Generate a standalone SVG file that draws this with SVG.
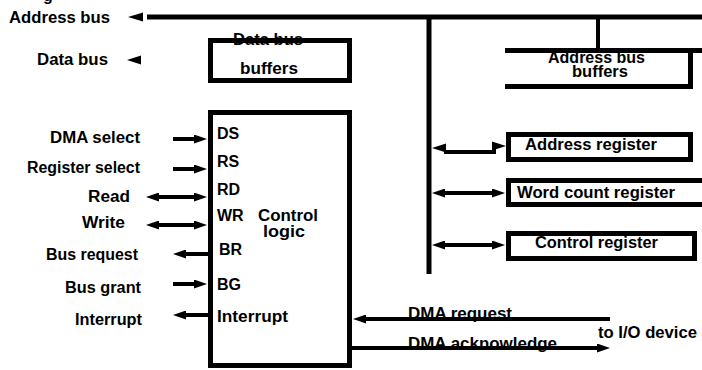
<svg xmlns="http://www.w3.org/2000/svg" width="702" height="370" viewBox="0 0 702 370">
<style>
text{font-family:"Liberation Sans",Arial,sans-serif;font-weight:bold;font-size:16px;fill:#000}
.box{fill:#fff;stroke:#000;stroke-width:5}
.bus{stroke:#000;stroke-width:5;fill:none}
.wire{stroke:#000;stroke-width:4;fill:none}
.arr{marker-end:url(#ah)}
.dbl{marker-start:url(#ah);marker-end:url(#ah)}
</style>
<defs>
<marker id="ah" viewBox="0 0 13 9" refX="5" refY="4.5" markerWidth="13" markerHeight="9" markerUnits="userSpaceOnUse" orient="auto-start-reverse">
<path d="M0,0 L13,4.5 L0,9 z" fill="#000"/>
</marker>
</defs>
<rect width="702" height="370" fill="#fff"/>
<text x="43" y="1">g</text>

<g id="address-bus">
<text x="9" y="23" textLength="101" lengthAdjust="spacingAndGlyphs">Address bus</text>
</g>
<g id="data-bus">
<text x="37" y="65" textLength="71" lengthAdjust="spacingAndGlyphs">Data bus</text>
</g>

<g id="data-bus-buffers">
<text x="233" y="45" textLength="70" lengthAdjust="spacingAndGlyphs">Data bus</text>
<rect class="box" x="210.5" y="40.5" width="139" height="40" fill="none" style="fill:none"/>
<text x="240" y="74" textLength="58" lengthAdjust="spacingAndGlyphs">buffers</text>
</g>

<g id="address-bus-buffers">
<text x="548" y="63" textLength="97" lengthAdjust="spacingAndGlyphs">Address bus</text>
<text x="572" y="77" textLength="56" lengthAdjust="spacingAndGlyphs">buffers</text>
<path class="bus" d="M505,50.5 H702 M505,86.5 H693 M690.5,50 V89"/>
</g>

<g id="control-logic">
<rect class="box" x="210.5" y="112.5" width="139" height="253"/>
<text x="217" y="139">DS</text>
<text x="217" y="167">RS</text>
<text x="217" y="195">RD</text>
<text x="217" y="221">WR</text>
<text x="258" y="221" textLength="60" lengthAdjust="spacingAndGlyphs">Control</text>
<text x="263" y="237" textLength="42" lengthAdjust="spacingAndGlyphs">logic</text>
<text x="219" y="255">BR</text>
<text x="217" y="290">BG</text>
<text x="217" y="322" textLength="71" lengthAdjust="spacingAndGlyphs">Interrupt</text>
</g>

<g id="address-register">
<rect class="box" x="508.5" y="134.5" width="182" height="25"/>
<text x="525" y="150" textLength="132" lengthAdjust="spacingAndGlyphs">Address register</text>
</g>
<g id="word-count-register">
<rect class="box" x="508.5" y="180.5" width="200" height="24"/>
<text x="517" y="198" textLength="158" lengthAdjust="spacingAndGlyphs">Word count register</text>
</g>
<g id="control-register">
<rect class="box" x="508.5" y="233.5" width="186" height="25"/>
<text x="535" y="248" textLength="123" lengthAdjust="spacingAndGlyphs">Control register</text>
</g>

<g id="signal-labels">
<text x="50" y="143" textLength="90" lengthAdjust="spacingAndGlyphs">DMA select</text>
<text x="27" y="173" textLength="113" lengthAdjust="spacingAndGlyphs">Register select</text>
<text x="88" y="202" textLength="42" lengthAdjust="spacingAndGlyphs">Read</text>
<text x="82" y="228" textLength="43" lengthAdjust="spacingAndGlyphs">Write</text>
<text x="46" y="260" textLength="92" lengthAdjust="spacingAndGlyphs">Bus request</text>
<text x="65" y="293" textLength="76" lengthAdjust="spacingAndGlyphs">Bus grant</text>
<text x="75" y="325" textLength="67" lengthAdjust="spacingAndGlyphs">Interrupt</text>
<text x="408" y="319" textLength="104" lengthAdjust="spacingAndGlyphs">DMA request</text>
<text x="408" y="349" textLength="149" lengthAdjust="spacingAndGlyphs">DMA acknowledge</text>
<text x="598" y="338" textLength="99" lengthAdjust="spacingAndGlyphs">to I/O device</text>
</g>

<g id="connectors">
<path class="bus" d="M147,17 H702"/>
<polygon points="128,17 143,12.5 143,21.5" fill="#000"/>
<polygon points="127,60 141,55.5 141,64.5" fill="#000"/>
<path class="bus" d="M429,15 V274"/>
<path class="wire" d="M598,17 V50"/>
<line class="wire arr" x1="173" y1="139" x2="199" y2="139"/>
<line class="wire arr" x1="173" y1="169" x2="199" y2="169"/>
<line class="wire dbl" x1="154" y1="197" x2="199" y2="197"/>
<line class="wire dbl" x1="154" y1="225" x2="199" y2="225"/>
<line class="wire arr" x1="211" y1="254" x2="181" y2="254"/>
<line class="wire arr" x1="173" y1="284" x2="199" y2="284"/>
<line class="wire arr" x1="213" y1="315" x2="181" y2="315"/>
<polygon points="432,148 446,143.5 446,152.5" fill="#000"/>
<path class="wire" d="M444,152 H494 V146"/>
<polygon points="506,146 492,141.5 492,150.5" fill="#000"/>
<line class="wire dbl" x1="440" y1="193" x2="497" y2="193"/>
<line class="wire dbl" x1="440" y1="245" x2="497" y2="245"/>
<line class="wire arr" x1="610" y1="319" x2="361" y2="319"/>
<line class="wire arr" x1="352" y1="348" x2="602" y2="348"/>
</g>
</svg>
